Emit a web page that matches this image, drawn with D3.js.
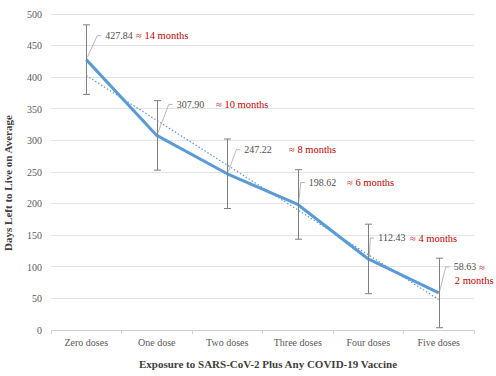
<!DOCTYPE html>
<html><head><meta charset="utf-8">
<script src="https://cdn.jsdelivr.net/npm/d3@7"></script>
<style>
html,body{margin:0;padding:0;background:#fff;}
svg{display:block;font-family:"Liberation Serif","DejaVu Serif",serif;}
</style></head>
<body>
<svg id="chart" width="496" height="376"></svg>
<script>
const categories = ["Zero doses","One dose","Two doses","Three doses","Four doses","Five doses"];
const values = [427.84, 307.90, 247.22, 198.62, 112.43, 58.63];
const errors = [55, 55, 55, 55, 55, 55];
const monthLabels = ["≈ 14 months","≈ 10 months","≈ 8 months","≈ 6 months","≈ 4 months","≈ 2 months"];
const yTicks = [0,50,100,150,200,250,300,350,400,450,500];

// label placement (styling only)
const labelOffsets = [[19,-24],[20,-31],[17,-24],[11,-22],[10,-21],[15,-26]];
const monthX = [136,216,289,347,410,479];

const svg = d3.select("#chart");
const x = d3.scaleBand().domain(categories).range([51,474]).padding(0);
const y = d3.scaleLinear().domain([0,500]).range([330,14]);
const cx = c => x(c) + x.bandwidth()/2;

// gridlines
svg.append("g").selectAll("line").data(yTicks.filter(t=>t>0)).join("line")
  .attr("x1",51).attr("x2",474).attr("y1",d=>y(d)).attr("y2",d=>y(d))
  .attr("stroke","#e3e3e3").attr("stroke-width",1).attr("shape-rendering","crispEdges");

// y axis
const ya = svg.append("g").attr("transform","translate(51,0)")
  .call(d3.axisLeft(y).tickValues(yTicks).tickSize(0).tickPadding(9));
ya.select(".domain").remove();
ya.selectAll("text").attr("fill","#595959").style("font-size","10px").style("font-family","'Liberation Serif',serif");

// x axis
const xa = svg.append("g").attr("transform","translate(0,330)")
  .call(d3.axisBottom(x).tickSize(0).tickPadding(9));
xa.select(".domain").attr("stroke","#d0d0d0");
xa.selectAll("text").attr("fill","#595959").style("font-size","10px").style("font-family","'Liberation Serif',serif");
const bounds = categories.map(c=>x(c)).concat([x.range()[1]]);
svg.append("g").selectAll("line").data(bounds).join("line")
  .attr("x1",d=>d).attr("x2",d=>d).attr("y1",330).attr("y2",334)
  .attr("stroke","#d0d0d0").attr("shape-rendering","crispEdges");

// trend line (linear regression)
const n = values.length;
const xs = values.map((v,i)=>i+1);
const mx = d3.mean(xs), my = d3.mean(values);
const slope = d3.sum(xs.map((xi,i)=>(xi-mx)*(values[i]-my))) / d3.sum(xs.map(xi=>(xi-mx)*(xi-mx)));
const icpt = my - slope*mx;
svg.append("line")
  .attr("x1",cx(categories[0])).attr("y1",y(icpt+slope*1))
  .attr("x2",cx(categories[n-1])).attr("y2",y(icpt+slope*n))
  .attr("stroke","#5b9bd5").attr("stroke-width",1.2).attr("stroke-dasharray","1.5,2");

// main line
svg.append("path").datum(values)
  .attr("d", d3.line().x((d,i)=>cx(categories[i])).y(d=>y(d)))
  .attr("fill","none").attr("stroke","#5b9bd5").attr("stroke-width",3).attr("stroke-linejoin","round");

// error bars
const eb = svg.append("g").attr("stroke","#7f7f7f").attr("stroke-width",1);
values.forEach((v,i)=>{
  const px = Math.round(cx(categories[i]))+0.5;
  eb.append("line").attr("x1",px).attr("x2",px).attr("y1",y(v+errors[i])).attr("y2",y(v-errors[i]));
  eb.append("line").attr("x1",px-3.5).attr("x2",px+3.5).attr("y1",y(v+errors[i])).attr("y2",y(v+errors[i]));
  eb.append("line").attr("x1",px-3.5).attr("x2",px+3.5).attr("y1",y(v-errors[i])).attr("y2",y(v-errors[i]));
});

// data labels with leader lines
values.forEach((v,i)=>{
  const px = cx(categories[i]), py = y(v);
  const tx = px + labelOffsets[i][0], ty = py + labelOffsets[i][1];
  const ex = tx - 4;
  svg.append("path").attr("d",`M${px+1},${py-2}L${ex-4},${ty}L${ex},${ty}`)
    .attr("fill","none").attr("stroke","#a6a6a6").attr("stroke-width",0.8);
  const last = i === n-1;
  svg.append("text").attr("x",tx).attr("y",ty).attr("dy","0.35em")
    .attr("fill","#505050").style("font-size","10px")
    .text(d3.format(".2f")(v));
  if (last) {
    const parts = monthLabels[i].split(" ");
    svg.append("text").attr("x",monthX[i]).attr("y",ty).attr("dy","0.35em")
      .attr("fill","#c00000").style("font-size","10.5px").text(parts[0]);
    svg.append("text").attr("x",tx+1).attr("y",ty+13).attr("dy","0.35em")
      .attr("fill","#c00000").style("font-size","10.5px").text(parts.slice(1).join(" "));
  } else {
    svg.append("text").attr("x",monthX[i]).attr("y",ty).attr("dy","0.35em")
      .attr("fill","#c00000").style("font-size","10.5px").text(monthLabels[i]);
  }
});

// axis titles
svg.append("text").attr("x",268).attr("y",364).attr("dy","0.35em").attr("text-anchor","middle")
  .attr("fill","#404040").style("font-size","11px").style("font-weight","bold")
  .text("Exposure to SARS-CoV-2 Plus Any COVID-19 Vaccine");
svg.append("text").attr("transform","translate(8,183) rotate(-90)").attr("dy","0.35em").attr("text-anchor","middle")
  .attr("fill","#404040").style("font-size","11px").style("font-weight","bold")
  .text("Days Left to Live on Average");
</script>
</body></html>
